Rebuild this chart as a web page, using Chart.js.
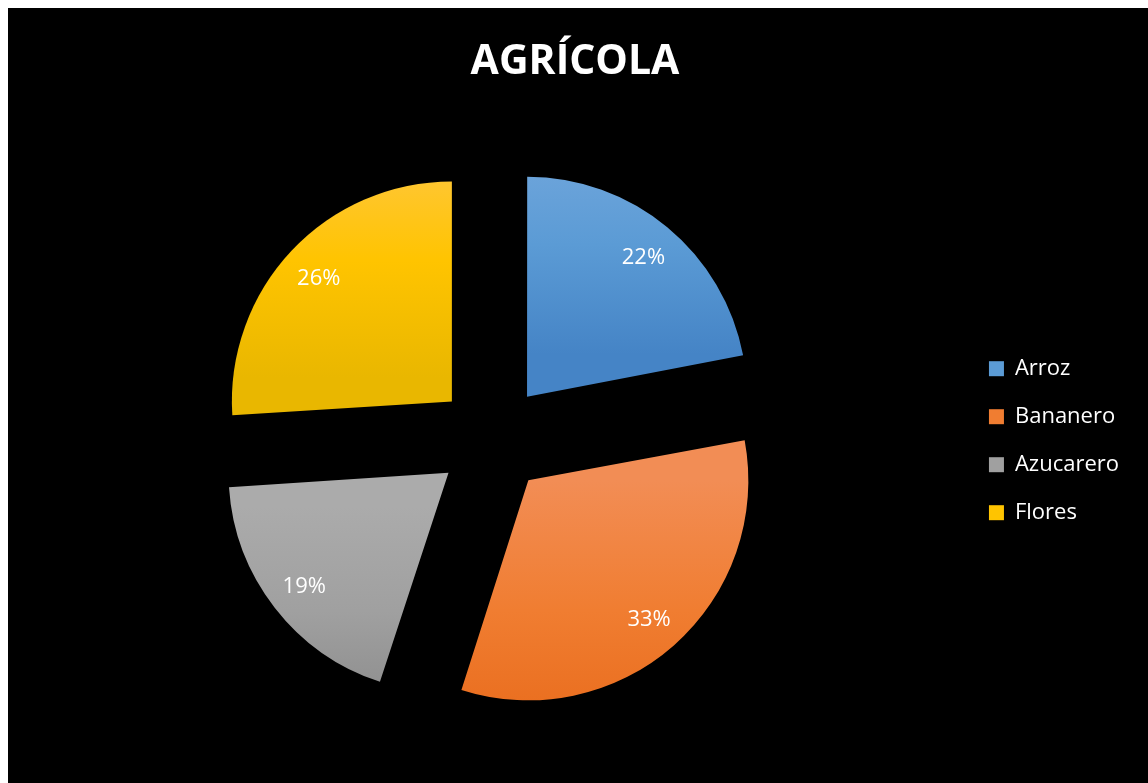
<!DOCTYPE html>
<html><head><meta charset="utf-8">
<script src="https://cdn.jsdelivr.net/npm/chart.js@4/dist/chart.umd.min.js"></script>
<style>
html,body{margin:0;padding:0;background:#fff;}
#wrap{position:absolute;left:8px;top:8px;width:1140px;height:775px;background:#000;}
canvas{display:block;}
</style></head><body>
<div id="wrap"><canvas id="c" width="1140" height="775"></canvas></div>
<script>
const categories = ['Arroz', 'Bananero', 'Azucarero', 'Flores'];
const values = [22, 33, 19, 26];
const titleText = 'AGRÍCOLA';
const topColors = ['#74a8dd', '#f28d55', '#ababab', '#ffc745'];
const midColors = ['#5b9bd5', '#f07d31', '#a0a0a0', '#ffc400'];
const bottomColors = ['#4584c6', '#e86a1a', '#8b8b8b', '#e9b700'];

const RADIUS = 220;
const EXPLODE = 55;          // visual translation in px
const LABEL_POS = 0.83;      // label distance from slice apex as fraction of radius
const total = values.reduce((a, b) => a + b, 0);

function sliceGradient(ctx) {
  const chart = ctx.chart, area = chart.chartArea, i = ctx.dataIndex;
  if (!area || ctx.type !== 'data') return midColors[i] || '#888';
  const cx = (area.left + area.right) / 2, cy = (area.top + area.bottom) / 2;
  let cum = 0;
  for (let k = 0; k < i; k++) cum += values[k];
  const a0 = -Math.PI / 2 + 2 * Math.PI * cum / total;
  const a1 = a0 + 2 * Math.PI * values[i] / total;
  const mid = (a0 + a1) / 2;
  const ax = cx + Math.cos(mid) * EXPLODE, ay = cy + Math.sin(mid) * EXPLODE;
  const ys = [ay, ay + Math.sin(a0) * RADIUS, ay + Math.sin(a1) * RADIUS];
  [-Math.PI / 2, Math.PI / 2, 3 * Math.PI / 2].forEach(a => { if (a > a0 && a < a1) ys.push(ay + Math.sin(a) * RADIUS); });
  const y0 = Math.min(...ys), y1 = Math.max(...ys);
  const g = chart.ctx.createLinearGradient(0, y0, 0, y1);
  g.addColorStop(0, topColors[i]);
  g.addColorStop(0.5, midColors[i]);
  g.addColorStop(1, bottomColors[i]);
  return g;
}

const radiusFix = {
  id: 'radiusFix',
  afterDatasetUpdate(chart, args) {
    args.meta.data.forEach(arc => {
      const circ = arc.circumference;
      arc.outerRadius = RADIUS - EXPLODE * (1 - Math.sin(Math.min(Math.PI, circ)));
    });
  }
};

const pctLabels = {
  id: 'pctLabels',
  afterDatasetsDraw(chart) {
    const ctx = chart.ctx;
    const meta = chart.getDatasetMeta(0);
    ctx.save();
    ctx.fillStyle = '#ffffff';
    ctx.font = '22px "Open Sans"';
    ctx.textAlign = 'center';
    ctx.textBaseline = 'middle';
    meta.data.forEach((arc, i) => {
      const p = arc.getProps(['x', 'y', 'startAngle', 'endAngle'], true);
      const mid = (p.startAngle + p.endAngle) / 2;
      const d = EXPLODE + LABEL_POS * RADIUS;
      const txt = Math.round(values[i] / total * 100) + '%';
      ctx.fillText(txt, p.x + Math.cos(mid) * d, p.y + Math.sin(mid) * d + 2);
    });
    ctx.restore();
  }
};

Chart.defaults.color = '#ffffff';
Chart.defaults.font.family = '"Open Sans", sans-serif';

new Chart(document.getElementById('c'), {
  type: 'pie',
  data: {
    labels: categories,
    datasets: [{
      data: values,
      backgroundColor: sliceGradient,
      borderWidth: 0,
      offset: EXPLODE * 4
    }]
  },
  options: {
    responsive: false,
    animation: false,
    radius: RADIUS,
    layout: { padding: { left: 13, right: 19, top: 0, bottom: 2 } },
    plugins: {
      tooltip: { enabled: false },
      title: {
        display: true,
        text: titleText,
        color: '#ffffff',
        font: { family: '"Open Sans"', size: 41, weight: 'bold' },
        padding: { top: 30, bottom: 10 }
      },
      legend: {
        position: 'right',
        title: { display: true, text: ' ', font: { size: 12 }, padding: { top: 0, bottom: 78 } },
        labels: {
          color: '#ffffff',
          font: { family: '"Open Sans"', size: 22 },
          boxWidth: 15,
          boxHeight: 15,
          padding: 26,
          generateLabels: (chart) => categories.map((c, i) => ({
            text: c, fillStyle: midColors[i], strokeStyle: midColors[i], lineWidth: 0, hidden: false, index: i, fontColor: '#ffffff'
          }))
        }
      }
    }
  },
  plugins: [radiusFix, pctLabels]
});
</script>
</body></html>
